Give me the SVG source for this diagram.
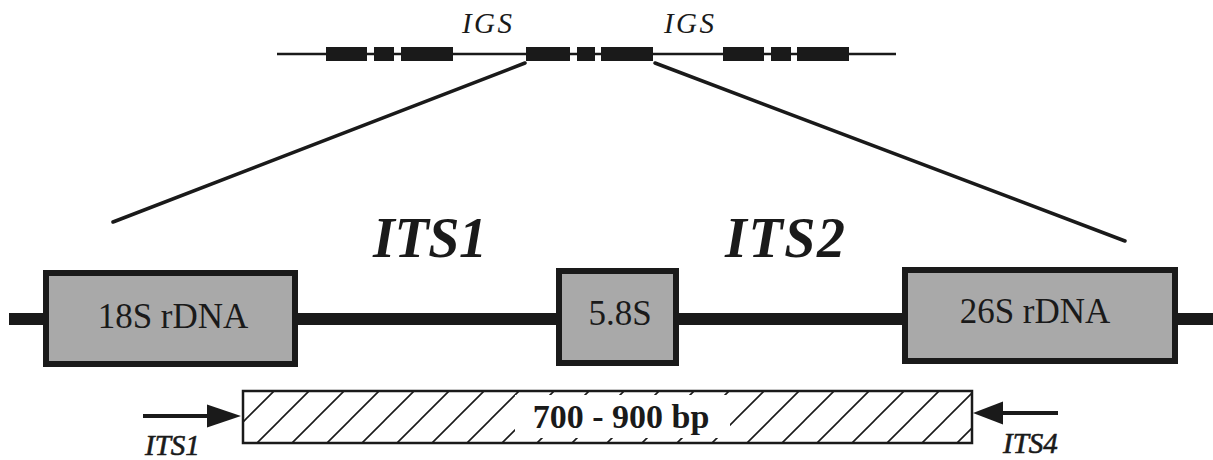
<svg xmlns="http://www.w3.org/2000/svg" width="1213" height="460" viewBox="0 0 1213 460">
<defs>
<style>
.blk{fill:#1a1a1a}
.box{fill:#a9a9a9;stroke:#1a1a1a;stroke-width:6}
.lbl{font-family:"Liberation Serif","Times New Roman",serif;fill:#1a1a1a}
.box-t{font-size:35px;text-anchor:middle}
.it{font-style:italic}
.big{font-size:56px;font-weight:bold;font-style:italic}
.prm{font-size:29px;font-style:italic;stroke:#1a1a1a;stroke-width:0.6}
.ln{stroke:#1a1a1a;fill:none}
</style>
<pattern id="hatch" patternUnits="userSpaceOnUse" width="35" height="35" x="0" y="0">
<path d="M-5,40 L40,-5 M-5,5 L5,-5 M30,40 L40,30" stroke="#1a1a1a" stroke-width="1.6"/>
</pattern>
</defs>
<rect width="1213" height="460" fill="#ffffff"/>

<g id="connectors">
<line class="ln" x1="277" y1="54" x2="896" y2="54" stroke-width="2.5"/>
<line class="ln" x1="525" y1="63" x2="113" y2="222" stroke-width="3.5" stroke-linecap="round"/>
<line class="ln" x1="655" y1="63" x2="1125" y2="241" stroke-width="3.5" stroke-linecap="round"/>
<line class="ln" x1="9" y1="319" x2="1213" y2="319" stroke-width="12"/>
<line class="ln" x1="143" y1="416" x2="212" y2="416" stroke-width="4"/>
<polygon class="blk" points="241,416 207,404.5 207,427.5"/>
<line class="ln" x1="1002" y1="413" x2="1058" y2="413" stroke-width="4"/>
<polygon class="blk" points="973,413 1003,401.5 1003,424.5"/>
</g>

<g id="rdna-array">
<rect class="blk" x="326" y="47" width="41" height="14"/>
<rect class="blk" x="374" y="47" width="20" height="14"/>
<rect class="blk" x="401" y="47" width="52" height="14"/>
<rect class="blk" x="526" y="47" width="44" height="14"/>
<rect class="blk" x="577" y="47" width="18" height="14"/>
<rect class="blk" x="601" y="47" width="52" height="14"/>
<rect class="blk" x="723" y="47" width="41" height="14"/>
<rect class="blk" x="771" y="47" width="20" height="14"/>
<rect class="blk" x="797" y="47" width="52" height="14"/>
<text class="lbl it" x="462" y="33" font-size="29" textLength="50">IGS</text>
<text class="lbl it" x="664" y="33" font-size="29" textLength="50">IGS</text>
</g>

<g id="its1-label">
<text class="lbl big" x="373" y="257" textLength="114">ITS1</text>
</g>
<g id="its2-label">
<text class="lbl big" x="725" y="257" textLength="120">ITS2</text>
</g>

<g id="node-18s">
<rect class="box" x="46" y="273" width="249" height="91"/>
<text class="lbl box-t" x="173" y="328">18S rDNA</text>
</g>
<g id="node-58s">
<rect class="box" x="559" y="271" width="117" height="92"/>
<text class="lbl box-t" x="620" y="325">5.8S</text>
</g>
<g id="node-26s">
<rect class="box" x="905" y="270" width="270" height="91"/>
<text class="lbl box-t" x="1035" y="323">26S rDNA</text>
</g>

<g id="amplicon">
<rect x="243" y="391" width="729" height="52" fill="#ffffff"/>
<rect x="243" y="391" width="729" height="52" fill="url(#hatch)"/>
<rect x="515" y="395" width="215" height="43" fill="#ffffff"/>
<rect x="243" y="391" width="729" height="52" fill="none" stroke="#1a1a1a" stroke-width="2.5"/>
<text class="lbl" x="621" y="428" font-size="34" font-weight="bold" text-anchor="middle">700 - 900 bp</text>
</g>

<g id="primer-its1">
<text class="lbl prm" x="145" y="455">ITS1</text>
</g>
<g id="primer-its4">
<text class="lbl prm" x="1003" y="453">ITS4</text>
</g>
</svg>
